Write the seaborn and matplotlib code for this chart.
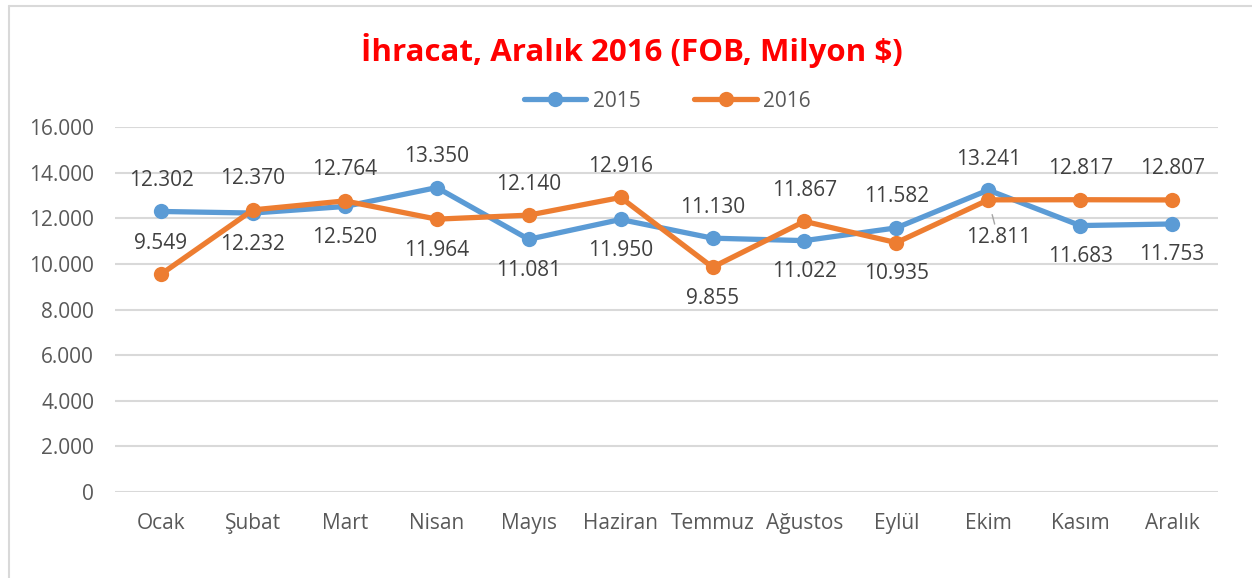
import matplotlib
matplotlib.use("Agg")
import matplotlib.pyplot as plt
import seaborn as sns
import pandas as pd
from matplotlib.lines import Line2D

months = ["Ocak", "Şubat", "Mart", "Nisan", "Mayıs", "Haziran",
          "Temmuz", "Ağustos", "Eylül", "Ekim", "Kasım", "Aralık"]
exports_2015 = [12302, 12232, 12520, 13350, 11081, 11950,
                11130, 11022, 11582, 13241, 11683, 11753]
exports_2016 = [9549, 12370, 12764, 11964, 12140, 12916,
                9855, 11867, 10935, 12811, 12817, 12807]
# label above (+1) or below (-1) the point
side_2015 = [1, -1, -1, 1, -1, -1, 1, -1, 1, 1, -1, -1]
side_2016 = [1, 1, 1, -1, 1, 1, -1, 1, -1, -1, 1, 1]

blue = "#5B9BD5"
orange = "#ED7D31"
grey_text = "#595959"
fs = 15

def fmt(v):
    return f"{v:,}".replace(",", ".")

df = pd.DataFrame({
    "idx": list(range(12)) * 2,
    "value": exports_2015 + exports_2016,
    "year": ["2015"] * 12 + ["2016"] * 12,
})

sns.set_style("white")
plt.rcParams["font.family"] = ["Open Sans", "DejaVu Sans"]

fig = plt.figure(figsize=(12.52, 5.78), dpi=100)
ax = fig.add_axes([0.0919, 0.149, 0.881, 0.631])

sns.lineplot(data=df, x="idx", y="value", hue="year", palette=[blue, orange],
             marker="o", markersize=11, markeredgewidth=0, linewidth=3.8,
             sort=False, legend=False, ax=ax)

ax.set_xlim(-0.5, 11.5)
ax.set_ylim(0, 16000)
ax.set_yticks(range(0, 16001, 2000))
ax.set_yticklabels([fmt(v) for v in range(0, 16001, 2000)])
ax.set_xticks(range(12))
ax.set_xticklabels(months)
ax.tick_params(axis="both", colors=grey_text, labelsize=fs, length=0)
ax.tick_params(axis="x", pad=15)
ax.tick_params(axis="y", pad=15)
ax.set_xlabel("")
ax.set_ylabel("")
ax.grid(axis="y", color="#D9D9D9", linewidth=1.5)
ax.set_axisbelow(True)
for s in ax.spines.values():
    s.set_visible(False)

for vals, sides in [(exports_2015, side_2015), (exports_2016, side_2016)]:
    for i, (v, s) in enumerate(zip(vals, sides)):
        if months[i] == "Ekim" and s < 0:
            ax.annotate(fmt(v), (i, v), xytext=(10, -38), textcoords="offset pixels",
                        ha="center", va="center", fontsize=fs, color="#404040",
                        arrowprops=dict(arrowstyle="-", color="#A6A6A6", lw=1,
                                        shrinkA=0, shrinkB=11))
        else:
            ax.annotate(fmt(v), (i, v), xytext=(0, 31 * s), textcoords="offset pixels",
                        ha="center", va="center", fontsize=fs, color="#404040")

handles = [Line2D([], [], color=blue, lw=3.8, marker="o", markersize=11, markeredgewidth=0),
           Line2D([], [], color=orange, lw=3.8, marker="o", markersize=11, markeredgewidth=0)]
fig.legend(handles, ["2015", "2016"], loc="center", bbox_to_anchor=(0.533, 0.825),
           ncol=2, frameon=False, fontsize=fs, handlelength=3.0, columnspacing=2.6,
           handletextpad=0.3, labelcolor=grey_text)

fig.text(0.505, 0.912, "İhracat, Aralık 2016 (FOB, Milyon $)", ha="center", va="center",
         fontsize=22.5, fontweight="bold", color="#FF0000")

# chart frame (left and top edges visible)
fig.add_artist(Line2D([0.007, 0.007], [0, 0.99], transform=fig.transFigure,
                      color="#D9D9D9", lw=1.5))
fig.add_artist(Line2D([0.007, 1.0], [0.99, 0.99], transform=fig.transFigure,
                      color="#D9D9D9", lw=1.5))

fig.savefig("out.png", dpi=100, facecolor="white")
